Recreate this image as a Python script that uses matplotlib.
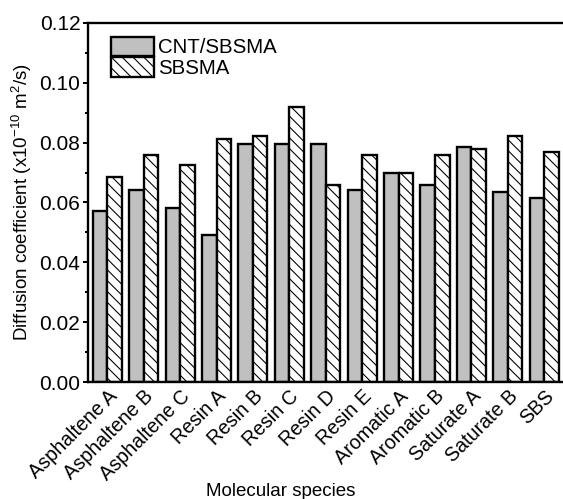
import matplotlib.pyplot as plt
import numpy as np

plt.rcParams['font.family'] = ['Liberation Sans', 'DejaVu Sans']
plt.rcParams['hatch.linewidth'] = 0.6
plt.rcParams['mathtext.fontset'] = 'custom'
plt.rcParams['mathtext.rm'] = 'Liberation Sans'
plt.rcParams['mathtext.it'] = 'Liberation Sans'

species = [
    "Asphaltene A", "Asphaltene B", "Asphaltene C", "Resin A", "Resin B",
    "Resin C", "Resin D", "Resin E", "Aromatic A", "Aromatic B",
    "Saturate A", "Saturate B", "SBS"
]

# diffusion coefficients, x10^-10 m^2/s
cnt_sbsma = [0.0573, 0.0643, 0.0581, 0.0490, 0.0795, 0.0795, 0.0795,
             0.0642, 0.0697, 0.0660, 0.0786, 0.0634, 0.0615]
sbsma = [0.0686, 0.0760, 0.0724, 0.0811, 0.0822, 0.0920, 0.0660,
         0.0760, 0.0697, 0.0760, 0.0778, 0.0822, 0.0768]

dpi = 130
fig = plt.figure(figsize=(563 / dpi, 499 / dpi), dpi=dpi)
ax = fig.add_axes([87.5 / 563, 1 - 382 / 499, 476.5 / 563, 359 / 499])

x = np.arange(len(species))
w = 0.4
ax.bar(x - w / 2, cnt_sbsma, w, color='#c0c0c0', edgecolor='black',
       linewidth=1.3, label='CNT/SBSMA')
ax.bar(x + w / 2, sbsma, w, color='white', edgecolor='black',
       linewidth=1.3, hatch='\\\\\\\\', label='SBSMA')

ax.set_xlim(-0.544, 12.544)
ax.set_ylim(0, 0.12)
ax.set_yticks(np.arange(0, 0.121, 0.02))
ax.set_yticks(np.arange(0.01, 0.12, 0.02), minor=True)
ax.set_yticklabels(['0.00', '0.02', '0.04', '0.06', '0.08', '0.10', '0.12'])
ax.tick_params(axis='y', which='major', direction='out', length=3, width=1.1,
               pad=1, labelsize=11.6)
ax.tick_params(axis='y', which='minor', direction='out', length=1.8, width=1.1)

ax.set_xticks(x)
ax.set_xticklabels(species, rotation=45, ha='right', rotation_mode='anchor',
                   fontsize=10.9)
ax.tick_params(axis='x', length=0, pad=2.5)

for side in ['left', 'bottom', 'top']:
    ax.spines[side].set_linewidth(1.3)
ax.spines['right'].set_visible(False)

ax.set_xlabel('Molecular species', fontsize=10.4)
ax.xaxis.set_label_coords(0.406, -0.282)
ax.set_ylabel('Diffusion coefficient (x10$^{-10}$ m$^{2}$/s)', fontsize=10.4)
ax.yaxis.set_label_coords(-0.112, 0.5)

ax.legend(loc='upper left', bbox_to_anchor=(0.05, 0.962), frameon=False,
          fontsize=11.3, handlelength=2.1, handleheight=1.12,
          handletextpad=0.2, labelspacing=0.0, borderaxespad=0,
          borderpad=0)

fig.savefig('out.png', dpi=dpi)
